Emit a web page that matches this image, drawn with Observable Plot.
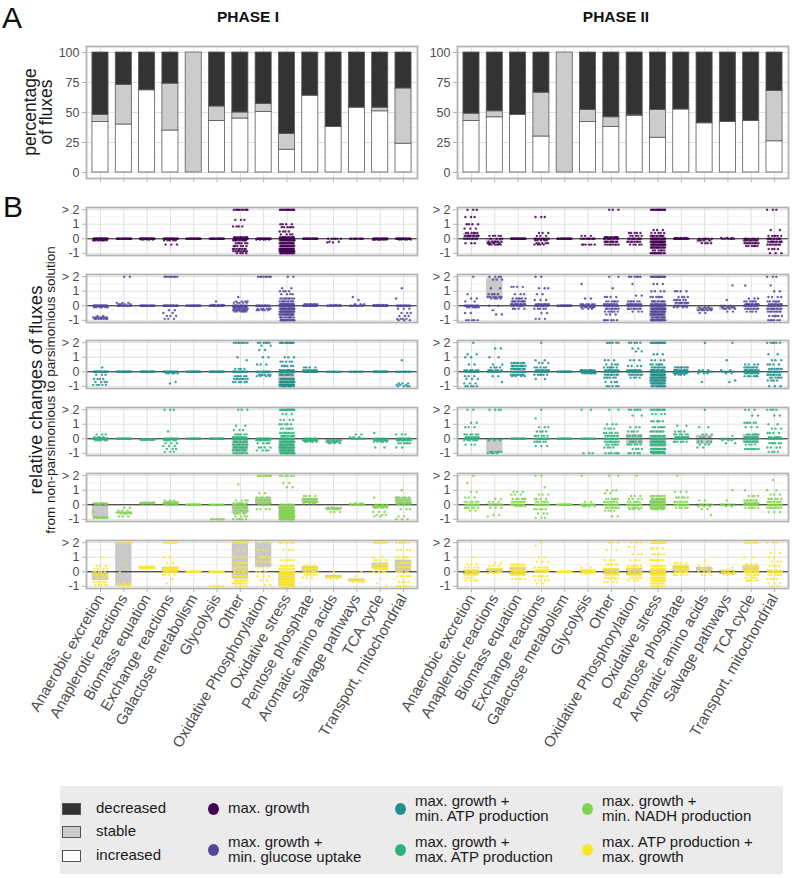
<!DOCTYPE html>
<html><head><meta charset="utf-8">
<script src="https://cdn.jsdelivr.net/npm/d3@7"></script>
<script src="https://cdn.jsdelivr.net/npm/@observablehq/plot@0.6"></script>
<style>
body{margin:0;background:#fff;}
#root{position:relative;width:800px;height:878px;font-family:"Liberation Sans",Arial,Helvetica,sans-serif;overflow:hidden;background:#fff;}
.lg{position:absolute;font-size:15px;color:#1a1a1a;line-height:15.5px;white-space:nowrap;}
</style></head><body><div id="root"></div>
<script>
// ---------- DATA ----------
const categories = ["Anaerobic excretion","Anaplerotic reactions","Biomass equation","Exchange reactions","Galactose metabolism","Glycolysis","Other","Oxidative Phosphorylation","Oxidative stress","Pentose phosphate","Aromatic amino acids","Salvage pathways","TCA cycle","Transport, mitochondrial"];
const phases = ["PHASE I","PHASE II"];
const statuses = ["decreased","stable","increased"];
const methods = ["max. growth","max. growth +\nmin. glucose uptake","max. growth +\nmin. ATP production","max. growth +\nmax. ATP production","max. growth +\nmin. NADH production","max. ATP production +\nmax. growth"];
const methodColors = ["#440154","#52479a","#21908c","#2db27d","#7fd34e","#fde725"];
const statusColors = ["#333333","#cccccc","#ffffff"];
const yTicksA = [0,25,50,75,100];
const yTicksB = [-1,0,1,2];
const yTickLabelsB = ["-1","0","1","> 2"];

// Panel A: percentage of fluxes
const increased1 = [42,40,68.5,35,0,43,45,50.5,19,64,38,54,51,24];
const stable1    = [6,33,0,39,100,12,5,6.5,13,0,0,0,3,46];
const decreased1 = [52,27,31.5,26,0,45,50,43,68,36,62,46,46,30];
const increased2 = [43,46,48,30,0,42,38,47,29,52.5,41,42,43,26];
const stable2    = [6,5,0,36.5,100,10,8,1,23,0,0,0,0,42];
const decreased2 = [51,49,52,33.5,0,48,54,52,48,47.5,59,58,57,32];

// Panel B: relative changes; "value*count" tokens, then "| q1 q3" for the grey box
const p1_growth = [
 "0*25 -0.1*10","0*20","0*25 -0.05*5","0*20 -0.1*5 -0.4*3","0*20","0*20",
 "2*10 1.3*3 0.85*4 0.1*8 0*20 -0.1*10 -0.3*6 -0.5*6 -0.7*8 -0.85*8 -1*4",
 "0*20 -0.05*5",
 "2*15 1*4 0.8*6 0.5*4 0.3*4 0.1*10 0*25 -0.1*15 -0.3*15 -0.5*15 -0.7*20 -0.85*20 -1*15 | -1 0",
 "0*20","0*6 -0.2*2 -0.25*2","0*10","0*20 -0.05*10","0*20 -0.05*5"];
const p1_glucose = [
 "0*20 -0.1*6 -0.7*2 -0.8*8 -0.9*8","2*2 0*10 0.1*4 0.2*3","0*20",
 "2*8 0*20 -0.3*2 -0.5*2 -0.7*3 -0.9*3","0*20","0*15 0.05*5 0.3*1",
 "0.6*1 0.3*4 0.2*5 0*15 -0.1*8 -0.2*8 -0.3*8 -0.4*6",
 "2*8 0*15 -0.2*6 -0.3*5",
 "2*2 1.2*2 1*4 0.8*4 0.5*8 0.3*10 0.1*15 0*20 -0.2*20 -0.4*20 -0.6*15 -0.8*10 -1*15 | -0.7 0.1",
 "0*15 0.1*8","0*10 0.05*4","0*8 0.1*3 0.4*1 0.6*1","0*20 0.05*5",
 "1.2*1 0.5*1 0*15 -0.2*3 -0.5*3 -0.7*3 -0.9*4 -1*3"];
const p1_minATP = [
 "0.3*1 0*20 -0.2*3 -0.5*4 -0.7*4 -0.9*5","0*20","0*20","0*15 -0.1*5 -0.7*1 -0.8*1","0*20","0*20",
 "2*8 1*1 0.8*1 0.2*4 0*15 -0.3*6 -0.5*8 -0.7*6",
 "2*6 1.8*2 1.5*2 1*2 0.5*3 0*12 -0.2*6 -0.3*4",
 "2*12 1*3 0.7*5 0.4*6 0.1*10 0*20 -0.2*10 -0.5*15 -0.7*20 -0.9*20 -1*10 | -1 0",
 "0.3*4 0.1*8 0*20","0*10","0*10","0*20","0.8*1 0*10 -0.8*3 -0.9*3 -1*4"];
const p1_maxATP = [
 "0.3*3 0.1*4 0*20 -0.1*6","0*20","-0.05*20",
 "2*3 0.5*1 0*15 -0.1*6 -0.3*3 -0.5*3 -0.7*3 -0.9*3","0*20","0*20",
 "2*3 0.9*2 0.6*3 0.3*6 0.1*8 0*15 -0.2*10 -0.4*10 -0.6*10 -0.8*10 -1*8 | -0.9 0",
 "0*15 -0.1*8 -0.3*4 -0.6*4 -0.8*4",
 "2*15 1.7*3 1.3*4 1*5 0.7*6 0.4*8 0.2*10 0*20 -0.2*15 -0.4*15 -0.6*15 -0.8*15 -1*15 | -1 0",
 "0*10 -0.1*15 -0.2*5","-0.1*5 -0.2*6 -0.3*4 | -0.3 -0.05","0.3*2 0.1*3 0*8",
 "0.4*1 0*10 -0.1*10 -0.2*5 -0.6*2","0.3*3 0*15 -0.1*10 -0.3*6 -0.6*2"];
const p1_minNADH = [
 "0.1*6 0.05*6 -0.5*1 -0.85*5 -0.9*10 | -0.9 0.1",
 "-0.2*2 -0.4*3 -0.55*6 -0.6*4 -0.8*3 | -0.6 -0.5",
 "0.1*10 0.15*10","0.3*3 0.2*6 0.1*15 0*5","0*20","0*12 -1*8",
 "1.4*1 0.3*4 0.1*6 0*10 -0.2*8 -0.4*8 -0.6*6 -0.8*4 -1*6 | -0.6 0",
 "2*8 0.8*2 0.5*5 0.3*8 0.1*6 0*4 -0.3*4 | 0 0.5",
 "2*6 1.5*2 1.2*2 0*10 -0.2*15 -0.4*20 -0.6*25 -0.8*25 -1*20 | -1 -0.1",
 "0.6*4 0.4*8 0.2*10 0.1*4 | 0.1 0.4","-0.2*5 -0.3*6 -0.5*3 | -0.35 -0.2","0.1*2 0.05*4 0*6",
 "0.5*1 0*5 -0.1*15 -0.2*6 -0.5*3 -0.7*3 -0.8*2",
 "1*1 0.5*6 0.3*8 0.1*8 0*5 -0.3*3 -0.8*2 -1*3 | 0 0.5"];
const p1_ATPgrowth = [
 "1*1 0.4*3 0.2*4 0*5 -0.2*5 -0.4*5 -0.7*5 -0.9*5 | -0.6 0",
 "2*6 0.5*1 0*1 -0.8*3 -0.9*4 -1*2 | -1 2",
 "0.35*8 0.3*15 0.25*10 | 0.2 0.35",
 "2*8 1*2 0.6*2 0.3*8 0.2*10 0.1*10 0*8 -0.2*4 -0.5*1 -0.8*1 | 0 0.3",
 "0*20","0*15 -0.05*5 -1*6",
 "2*12 1.5*2 1*4 0.6*6 0.3*8 0*10 -0.3*8 -0.6*10 -0.8*10 -1*4 | -0.5 2",
 "2*3 1.5*3 1*6 0.7*5 0.3*3 0*3 -0.3*3 -0.6*2 -0.9*2 | 0.3 2",
 "2*6 1.5*3 0.8*6 0.4*10 0.2*10 0*15 -0.2*20 -0.4*20 -0.6*20 -0.8*20 -1*15 | -1 0",
 "0.4*6 0.2*10 0*10 -0.2*6 -0.4*3 | -0.1 0.35",
 "0*1 -0.3*5 -0.4*4 -0.5*2 | -0.45 -0.25",
 "0*1 -0.3*1 -0.5*3 -0.6*5 -0.7*4 | -0.7 -0.5",
 "2*8 1*2 0.8*4 0.5*6 0.3*10 0.2*10 0*4 -0.8*1 -1*1 | 0.2 0.6",
 "2*6 1.5*4 1*6 0.6*8 0.3*8 0*6 -0.3*6 -0.7*4 -1*6 | 0 0.8"];

const p2_growth = [
 "2*3 1.5*3 1*4 0.7*3 0.4*6 0.2*10 0*8 -0.3*3 | 0 0.35",
 "0.2*5 0*4 -0.2*6 -0.3*4 -0.4*6 | -0.35 0","0*25",
 "1.5*3 0.4*3 0.2*3 0*10 -0.1*5 -0.3*5 -0.4*4","0*20","0.2*3 0*10 -0.4*6",
 "2*3 0.1*10 0*10 -0.2*10 -0.4*8","0.4*5 0.2*5 0*10 -0.2*8 -0.4*5",
 "2*15 0.6*3 0.4*5 0.2*10 0*20 -0.2*20 -0.4*20 -0.6*15 -0.8*6 -1*12 | -0.5 0.05",
 "0.05*5 0*20","0*6 -0.1*4 -0.3*4 | -0.3 0","0.05*3 0*6",
 "0*6 -0.1*8 -0.3*8 -0.5*6 | -0.4 0",
 "2*3 0.6*2 0.2*6 0*10 -0.2*10 -0.4*8 -0.7*4 -1*3"];
const p2_glucose = [
 "2*1 0.8*1 0.5*2 0.3*2 0*12 -0.1*6 -0.5*2 -1*5",
 "2*4 1.8*3 1.2*2 0.8*4 0.6*6 0.5*4 0*2 -0.3*1 -0.6*2 | 0.5 1.9",
 "1.3*4 0.8*3 0.5*6 0.3*10 0.1*10 0*6 -0.2*4",
 "2*2 1.2*3 0.8*2 0.4*3 0.1*8 0*10 -0.2*5 -0.5*2 -0.9*3","0*20",
 "1.5*1 0.5*2 0.1*6 0*10 -0.1*6 -0.2*3",
 "2*2 1.2*1 0.6*4 0.3*6 0.1*8 0*10 -0.2*8 -0.4*6 -0.6*3 -1*6",
 "2*6 1.5*1 0.7*2 0.3*6 0.1*8 0*8 -0.2*8 -0.4*3 | -0.1 0.1",
 "2*15 1.5*3 1*4 0.6*6 0.3*10 0.1*10 0*15 -0.2*20 -0.4*20 -0.6*15 -0.8*10 -1*15 | -1 0",
 "1*4 0.6*4 0.4*6 0.2*10 0*8 -0.1*4","-0.1*3 -0.2*5 -0.3*5 -0.5*2 | -0.4 -0.1",
 "1.4*1 0.4*1 0*3 -0.1*4 -0.2*4 -0.4*2 | -0.3 -0.05",
 "1.4*1 0.5*3 0.3*6 0.1*10 0*10 -0.2*8 -0.4*4",
 "2*3 1.4*1 1*2 0.6*4 0.3*6 0.1*8 0*10 -0.2*10 -0.4*8 -0.7*6 -1*6"];
const p2_minATP = [
 "2*1 1.2*2 1*2 0.5*2 0.1*6 0*12 -0.3*3 -0.5*3 -0.8*3 -1*5",
 "1.6*2 1*2 0.5*2 0.3*4 0.1*6 0*8 -0.3*2 -0.7*1",
 "0.6*8 0.4*10 0.2*12 0*12 -0.2*8 -0.3*4",
 "2*1 0.8*2 0.6*3 0.3*5 0.1*8 0*10 -0.2*6 -0.5*2","0*20","0.1*10 0*12 -0.1*8",
 "2*6 0.8*3 0.5*4 0.3*6 0.1*8 0*10 -0.2*8 -0.4*6 -0.7*4 -1*5",
 "2*5 1.6*2 1.4*2 0.8*3 0.4*4 0.1*8 0*10 -0.2*8 -0.4*4 | -0.1 0.1",
 "2*15 1.2*3 0.8*4 0.5*6 0.3*8 0.1*10 0*15 -0.2*20 -0.4*20 -0.6*15 -0.8*15 -1*12 | -0.85 0.1",
 "0.3*8 0.1*10 0*10 -0.1*8 -0.2*4","2*1 0.1*3 0*4 -0.1*3 -0.7*1",
 "2*1 0.8*1 0.1*2 0*4 -0.1*2 -0.6*1 -0.7*1","0.5*4 0.3*8 0.1*10 0*10 -0.1*8 -0.3*6",
 "2*6 1.2*2 0.8*3 0.5*4 0.2*8 0*10 -0.2*8 -0.4*6 -0.6*4 -1*3"];
const p2_maxATP = [
 "2*2 1.1*2 0.8*3 0.3*6 0.1*8 0*10 -0.1*6 -0.4*3","2*4 0*4 -0.1*3 -0.9*6 -1*4 | -1 0","0*20",
 "2*1 1.4*1 0.8*3 0.5*4 0.2*6 0*12 -0.2*6 -0.5*3","0*20","2*2 0*15 -1*3",
 "2*2 1*3 0.7*4 0.4*6 0.2*8 0*10 -0.2*8 -0.4*6 -0.6*4 -1*6",
 "2*6 1.6*2 0.8*3 0.5*4 0.2*6 0*6 -0.2*6 -0.4*6 -0.7*4 -1*5 | -0.4 0.3",
 "2*10 1.7*4 1.2*5 0.8*6 0.5*8 0.2*10 0*15 -0.2*15 -0.4*15 -0.7*15 -0.9*15 -1*8 | -0.6 0.2",
 "0.9*2 0.5*4 0.3*6 0.1*10 0*10 -0.2*6",
 "2*1 0.8*2 0.3*3 0.1*3 -0.2*4 -0.4*3 -0.6*2 | -0.4 0.25",
 "0.2*1 0*5 -0.1*3 -0.3*2 | -0.1 0",
 "2*3 1.6*2 1.1*6 0.8*3 0.3*6 0.1*8 0*10 -0.2*8 -0.4*4 -0.7*8 | -0.3 0.3",
 "2*4 1.6*2 1*2 0.7*3 0.4*4 0.1*6 0*8 -0.3*6 -0.6*4 -0.9*4"];
const p2_minNADH = [
 "2*1 1.5*1 0.9*2 0.5*3 0.2*6 0*12 -0.2*6 -0.4*2",
 "0.4*2 0.2*3 0*8 -0.2*3 -0.7*2 -0.8*1 | -0.05 0.05",
 "0.9*3 0.7*3 0.4*6 0.2*8 0*10 -0.1*4",
 "2*2 1.2*1 0.7*3 0.4*4 0.2*6 0*10 -0.3*5 -0.6*3 -0.9*3","0*20","2*1 0.2*2 0*12 -0.1*4",
 "2*2 1*3 0.8*2 0.4*6 0.2*8 0*10 -0.2*8 -0.4*4 -0.8*2",
 "2*1 0.6*3 0.4*4 0.2*6 0*10 -0.2*6 -0.3*3",
 "0.6*8 0.4*12 0.2*15 0*15 -0.2*12 -0.3*6 | -0.2 0.3",
 "2*1 0.9*3 0.5*5 0.2*8 0*10 -0.2*5","0.3*2 0*5 -0.1*3 -0.3*2 -0.7*1 | -0.1 0.05",
 "1*1 0.3*1 0*6 -0.1*2 | -0.1 0.05","1*1 0.6*4 0.3*8 0.1*10 0*10 -0.2*6",
 "1.7*1 1*2 0.7*3 0.4*6 0.2*8 0*10 -0.2*8 -0.5*3"];
const p2_ATPgrowth = [
 "1*1 0.5*3 0.3*4 0.1*8 0*8 -0.2*8 -0.4*4 -0.6*4 | -0.2 0.1",
 "0.6*2 0.4*3 0.2*6 0*6 -0.1*3 | -0.05 0.2",
 "0.5*8 0.3*10 0.1*12 0*10 -0.2*10 -0.5*5 | -0.2 0.3",
 "2*1 1.8*1 1*2 0.7*3 0.3*6 0.1*8 0*8 -0.3*6 -0.6*4 -0.8*2","0*20","0.3*2 0.1*8 0*10 -0.1*6",
 "2*3 1.5*2 0.8*3 0.5*6 0.2*8 0*10 -0.2*8 -0.4*6 -0.5*2 -0.7*4 | -0.2 0.2",
 "2*3 1.7*2 1.2*3 0.8*3 0.4*6 0.2*6 0*8 -0.2*8 -0.4*6 -0.6*3 | -0.25 0.25",
 "2*15 1.6*4 1.2*5 0.8*8 0.4*10 0.2*12 0*15 -0.2*15 -0.4*15 -0.6*12 -0.8*8 -1*8 | -0.2 0.1",
 "0.6*4 0.4*8 0.2*10 0*10 -0.2*6 | -0.1 0.4","0.8*1 0.4*2 0.2*4 0*4 -0.2*3 | -0.1 0.3",
 "0.3*1 0.1*3 0*4 -0.1*4 -0.2*3 | -0.2 0.1",
 "2*8 1*2 0.5*5 0.3*8 0.1*10 0*10 -0.2*8 -0.4*6 -0.6*6 | -0.1 0.4",
 "2*3 1.3*2 1*2 0.7*3 0.4*4 0.1*6 0*8 -0.2*6 -0.5*4 -0.8*3 -1*2"];

const panelB = [
  [p1_growth,p1_glucose,p1_minATP,p1_maxATP,p1_minNADH,p1_ATPgrowth],
  [p2_growth,p2_glucose,p2_minATP,p2_maxATP,p2_minNADH,p2_ATPgrowth]
];

// ---------- LAYOUT ----------
const root = document.getElementById("root");
const FONT = '"Liberation Sans", Arial, Helvetica, sans-serif';
const frameLefts = [86, 457];
const frameW = 331;
const rowTops = [207, 273.5, 340, 406.5, 473, 540];
const rowH = 48;
const ML = 40, MR = 3, MT = 3;
const xDomain = [-0.6, categories.length - 0.4];
const idx = d3.range(categories.length);

function place(node, left, top) {
  node.style.position = "absolute";
  node.style.left = left + "px";
  node.style.top = top + "px";
  root.appendChild(node);
}
const baseStyle = {fontFamily: FONT, fontSize: "12.5px", color: "#4d4d4d", background: "transparent", overflow: "visible"};

function barPlot(inc, sta, dec, left) {
  const rows = [];
  idx.forEach(i => {
    const vals = [inc[i], sta[i], dec[i]];
    let acc = 0;
    [2,1,0].forEach((s, j) => {
      const v = vals[j];
      rows.push({i, s, y1: acc, y2: acc + v});
      acc += v;
    });
  });
  const MB = 8;
  return {node: Plot.plot({
    width: ML + frameW + MR, height: MT + 132 + MB,
    marginLeft: ML, marginRight: MR, marginTop: MT, marginBottom: MB,
    x: {domain: xDomain, label: null}, y: {domain: [-5, 105], label: null},
    style: baseStyle,
    marks: [
      Plot.gridY({ticks: [12.5, 37.5, 62.5, 87.5], stroke: "#f0f0f0", strokeOpacity: 1, strokeWidth: 0.7}),
      Plot.gridY({ticks: yTicksA, stroke: "#e0e0e0", strokeOpacity: 1}),
      Plot.gridX({ticks: idx, stroke: "#e0e0e0", strokeOpacity: 1}),
      Plot.rect(rows.filter(r => r.y2 > r.y1), {x1: d => d.i - 0.345, x2: d => d.i + 0.345, y1: "y1", y2: "y2", fill: d => statusColors[d.s], stroke: "#5a5a5a", strokeWidth: 0.8}),
      Plot.axisY({ticks: yTicksA, tickSize: 4, tickPadding: 3, stroke: "#b3b3b3", fill: "#4d4d4d", fontSize: 12.5, label: null}),
      Plot.axisX({ticks: idx, tickSize: 4, tickFormat: () => "", stroke: "#b3b3b3", label: null}),
      Plot.frame({stroke: "#b3b3b3", strokeWidth: 1.8})
    ]
  }), left: left - ML, top: 46 - MT};
}

function parseSpec(spec) {
  const parts = spec.split("|");
  const values = [];
  parts[0].trim().split(/\s+/).forEach(tok => {
    const [v, n] = tok.split("*");
    for (let k = 0; k < +(n || 1); k++) values.push(+v);
  });
  const box = parts[1] ? parts[1].trim().split(/\s+/).map(Number) : null;
  return {values, box};
}

function stripPlot(specs, color, left, top, last) {
  const pts = [], boxes = [];
  specs.forEach((spec, i) => {
    const {values, box} = parseSpec(spec);
    values.forEach((v, k) => {
      const off = (((k + 1) * 0.6180339887 + i * 0.29) % 1 - 0.5) * 0.64;
      pts.push({x: i + off, y: v});
    });
    if (box) boxes.push({i, q1: box[0], q3: box[1]});
  });
  const MB = last ? 180 : 3;
  return {node: Plot.plot({
    width: ML + frameW + MR, height: MT + rowH + MB,
    marginLeft: ML, marginRight: MR, marginTop: MT, marginBottom: MB,
    x: {domain: xDomain, label: null}, y: {domain: [-1.15, 2.15], label: null},
    style: baseStyle,
    marks: [
      Plot.gridY({ticks: [-0.5, 0.5, 1.5], stroke: "#f0f0f0", strokeOpacity: 1, strokeWidth: 0.7}),
      Plot.gridY({ticks: yTicksB, stroke: "#e0e0e0", strokeOpacity: 1}),
      Plot.gridX({ticks: idx, stroke: "#e0e0e0", strokeOpacity: 1}),
      Plot.rect(boxes, {x1: d => d.i - 0.35, x2: d => d.i + 0.35, y1: "q1", y2: "q3", fill: "#c9c9c9"}),
      Plot.ruleY([0], {stroke: "#1a1a1a", strokeWidth: 1}),
      Plot.dot(pts, {x: "x", y: "y", r: 1.2, fill: color, fillOpacity: 0.85, stroke: "none"}),
      Plot.axisY({ticks: yTicksB, tickFormat: v => yTickLabelsB[yTicksB.indexOf(v)], tickSize: 4, tickPadding: 3, stroke: "#b3b3b3", fill: "#4d4d4d", fontSize: 12.5, label: null}),
      last
        ? Plot.axisX({ticks: idx, tickFormat: i => categories[i], tickRotate: -60, tickSize: 4, tickPadding: 3, stroke: "#b3b3b3", fill: "#4d4d4d", fontSize: 15, label: null})
        : Plot.axisX({ticks: [], label: null}),
      Plot.frame({stroke: "#b3b3b3", strokeWidth: 1.8})
    ]
  }), left: left - ML, top: top - MT};
}

// Panel A
[[increased1, stable1, decreased1], [increased2, stable2, decreased2]].forEach((d, p) => {
  const b = barPlot(d[0], d[1], d[2], frameLefts[p]);
  place(b.node, b.left, b.top);
});
// Panel B
panelB.forEach((phaseRows, p) => {
  phaseRows.forEach((specs, r) => {
    const s = stripPlot(specs, methodColors[r], frameLefts[p], rowTops[r], r === phaseRows.length - 1);
    place(s.node, s.left, s.top);
  });
});

// Texts (titles, panel letters, axis titles)
const svg = d3.create("svg").attr("width", 800).attr("height", 878)
  .style("position", "absolute").style("left", "0px").style("top", "0px")
  .style("font-family", FONT).style("pointer-events", "none");
svg.append("text").attr("x", 2).attr("y", 28).attr("font-size", 30).attr("fill", "#111").text("A");
svg.append("text").attr("x", 3).attr("y", 217).attr("font-size", 30).attr("fill", "#111").text("B");
[248, 616].forEach((cx, p) => svg.append("text").attr("x", cx).attr("y", 22).attr("text-anchor", "middle")
  .attr("font-size", 15.5).attr("font-weight", "bold").attr("fill", "#111").text(phases[p]));
const t1 = svg.append("text").attr("transform", "translate(36,112) rotate(-90)").attr("text-anchor", "middle").attr("font-size", 17.5).attr("fill", "#1a1a1a");
t1.append("tspan").attr("x", 0).attr("y", 0).text("percentage");
t1.append("tspan").attr("x", 0).attr("y", 16).text("of fluxes");
svg.append("text").attr("transform", "translate(42,390) rotate(-90)").attr("text-anchor", "middle").attr("font-size", 18.5).attr("fill", "#1a1a1a").text("relative changes of fluxes");
svg.append("text").attr("transform", "translate(55,390) rotate(-90)").attr("text-anchor", "middle").attr("font-size", 13.5).attr("fill", "#1a1a1a").text("from non-parsimonious to parsimonious solution");
root.appendChild(svg.node());

// Legend
const lg = document.createElement("div");
Object.assign(lg.style, {position: "absolute", left: "60px", top: "786px", width: "723px", height: "88px", background: "#ebebeb"});
root.appendChild(lg);
const swTops = [803, 826, 850];
statuses.forEach((s, j) => {
  const sw = document.createElement("div");
  Object.assign(sw.style, {position: "absolute", left: "62px", top: swTops[j] + "px", width: "17px", height: "10px", background: statusColors[j], border: "1px solid #555"});
  root.appendChild(sw);
  const tx = document.createElement("div");
  tx.className = "lg"; tx.textContent = s;
  Object.assign(tx.style, {left: "96px", top: (swTops[j] - 3) + "px"});
  root.appendChild(tx);
});
const colX = [213, 400, 587];
const rowY = [809, 850];
methods.forEach((m, k) => {
  const cx = colX[Math.floor(k / 2)], cy = rowY[k % 2];
  const dot = document.createElement("div");
  Object.assign(dot.style, {position: "absolute", left: (cx - 5.5) + "px", top: (cy - 6) + "px", width: "11px", height: "12px", borderRadius: "50%", background: methodColors[k]});
  root.appendChild(dot);
  const lines = m.split("\n");
  const tx = document.createElement("div");
  tx.className = "lg";
  tx.innerHTML = lines.map(l => l.replace(/&/g, "&amp;")).join("<br>");
  Object.assign(tx.style, {left: (cx + 15) + "px", top: (cy - lines.length * 15.5 / 2 - 1) + "px"});
  root.appendChild(tx);
});
</script>
</body></html>
